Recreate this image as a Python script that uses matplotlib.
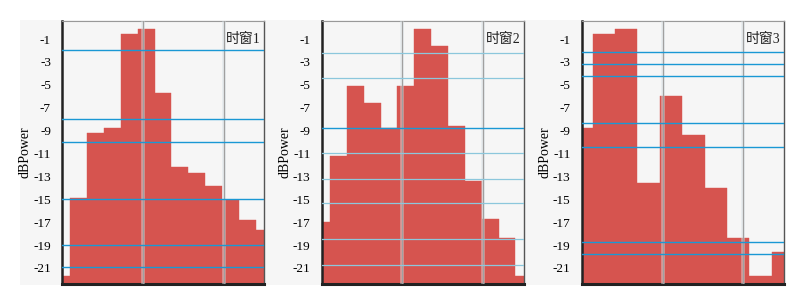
import numpy as np
import matplotlib.pyplot as plt
from matplotlib.patches import Rectangle

plt.rcParams['font.family'] = ['Liberation Serif', 'Noto Sans CJK SC', 'DejaVu Sans']

# bar heights (dBPower) per time window, first/last bars are cut by the frame
win1 = [-21.7, -14.9, -9.2, -8.8, -0.6, -0.1, -5.7, -12.2, -12.7, -13.8, -15.1, -16.8, -17.7]
win2 = [-17.0, -11.2, -5.1, -6.6, -8.8, -5.1, -0.1, -1.6, -8.6, -13.4, -16.7, -18.4, -21.7]
win3 = [-8.8, -0.6, -0.1, -13.6, -6.0, -9.4, -14.0, -18.4, -21.7, -19.6]

# horizontal reference levels
levels1 = [-2.0, -8.0, -10.0, -15.0, -19.0, -20.9]
levels2 = [-2.2, -4.4, -8.8, -11.0, -13.2, -15.3, -18.5, -20.7]
levels2_dark = [-8.8]
levels3 = [-2.1, -3.2, -4.2, -8.35, -10.4, -18.7, -19.8]

titles = ["时窗1", "时窗2", "时窗3"]
yticks = list(range(-1, -22, -2))

BAR = "#d6544f"
DARK = "#1a98d4"
LIGHT = "#8cc7dc"

fig = plt.figure(figsize=(8.08, 2.96), dpi=100)
fig.patch.set_facecolor("white")
fig.patches.append(Rectangle((20 / 808, 1 - 285 / 296), 764 / 808, 265 / 296,
                             transform=fig.transFigure, facecolor="#f6f6f6",
                             edgecolor="none", zorder=-10))

panels = [
    (win1, levels1, [], (0.05, 11.95), 62),
    (win2, levels2, levels2_dark, (0.01, 11.99), 321.7),
    (win3, levels3, levels3, (0.01, 9.03), 581.7),
]

for i, (vals, levels, dark, xlim, left) in enumerate(panels):
    ax = fig.add_axes([left / 808, 1 - 284 / 296, 202 / 808, 263.3 / 296])
    ax.set_facecolor("#f6f6f6")
    x = np.arange(len(vals))
    ax.bar(x, np.array(vals) + 30, bottom=-30, width=1.0, color=BAR,
           edgecolor=BAR, linewidth=0.3, zorder=2)
    ax.set_xlim(*xlim)
    ax.set_ylim(-22.4, 0.6)

    # vertical time grid at 40% / 80% of the width
    for f in [0.4, 0.8]:
        xv = xlim[0] + f * (xlim[1] - xlim[0])
        ax.axvline(xv, color="#d8e2e6", lw=2.6, alpha=0.5, zorder=3)
        ax.axvline(xv, color="#a0a0a0", lw=0.9, zorder=3)

    for lv in levels:
        if i == 0 or lv in dark:
            ax.axhline(lv, color=DARK, lw=1.0, zorder=4)
        else:
            ax.axhline(lv, color=LIGHT, lw=0.9, zorder=4)

    ax.set_yticks(yticks)
    ax.set_yticklabels([str(t) for t in yticks], fontsize=9.5)
    ax.tick_params(axis="y", length=0, pad=8)
    ax.set_xticks([])
    ax.set_ylabel("dBPower", fontsize=10, labelpad=1)

    ax.spines["left"].set_linewidth(1.8)
    ax.spines["bottom"].set_linewidth(2.2)
    ax.spines["left"].set_color("#222222")
    ax.spines["bottom"].set_color("#222222")
    ax.spines["right"].set_color("#555555")
    ax.spines["right"].set_linewidth(1.0)
    ax.spines["top"].set_color("#999999")
    ax.spines["top"].set_linewidth(0.8)

    ax.text(0.985, 0.955, titles[i], transform=ax.transAxes, ha="right", va="top",
            fontsize=10, color="#222222", zorder=5,
            family=["Liberation Serif", "Noto Sans CJK SC"])

fig.savefig("out.png", dpi=100, facecolor="white")
